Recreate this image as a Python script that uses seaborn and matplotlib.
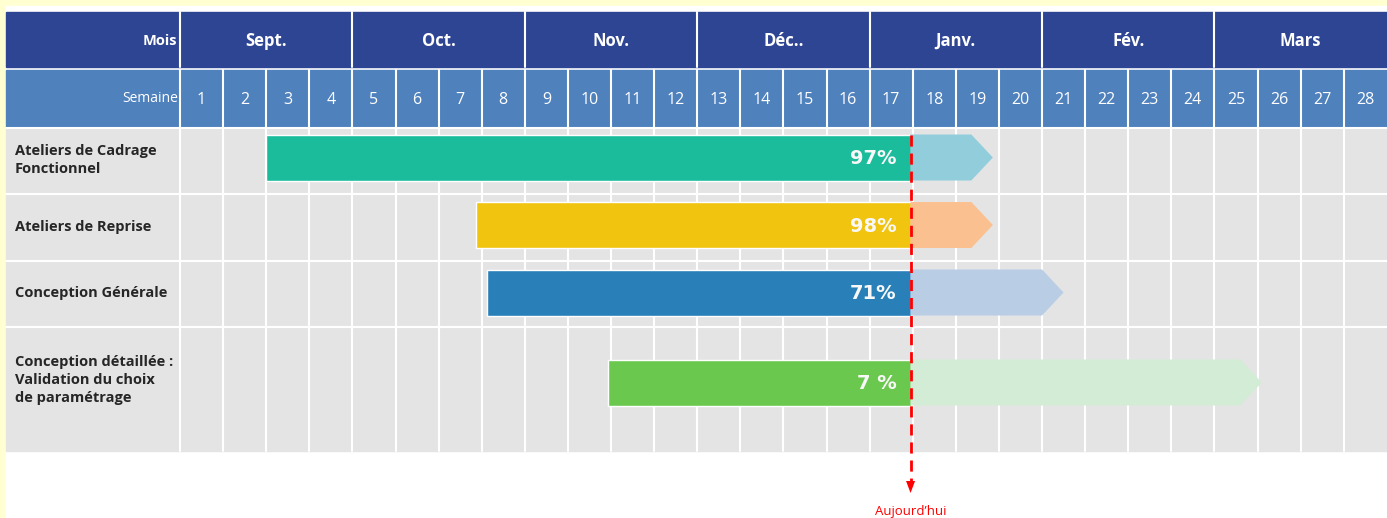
import numpy as np
import matplotlib.pyplot as plt
import seaborn as sns
from matplotlib.patches import Rectangle, Polygon

# ---- data ----
months = ["Sept.", "Oct.", "Nov.", "Déc..", "Janv.", "Fév.", "Mars"]
weeks_per_month = [4, 4, 4, 4, 4, 4, 4]
weeks = list(range(1, 29))

tasks = ["Ateliers de Cadrage\nFonctionnel",
         "Ateliers de Reprise",
         "Conception Générale",
         "Conception détaillée :\nValidation du choix\nde paramétrage"]
starts = [2.0, 6.87, 7.12, 9.93]      # week position where the task starts
ends = [18.86, 18.86, 20.5, 25.1]     # week position of the arrow tip
progress = ["97%", "98%", "71%", "7 %"]
today = 16.95

done_colors = ["#1ABC9C", "#F1C40F", "#2980B9", "#6AC84F"]
todo_colors = ["#92CDDC", "#FAC090", "#B9CDE5", "#D3ECD6"]

# ---- layout (pixels) ----
W = 43.1            # px per week
X0 = 180            # px where week 1 starts
row_edges = [128, 194, 261, 327, 451]
bar_centers = [157.5, 225, 292.5, 382.5]
label_centers = [160, 227, 293, 380]
bar_h = 46
tip = 0.5           # arrow head length, in weeks

sns.set_theme(style="white")
plt.rcParams['font.family'] = ['Open Sans', 'DejaVu Sans']

fig = plt.figure(figsize=(13.87, 5.18), dpi=100, facecolor="#FFFFD2")
ax = fig.add_axes([0, 0, 1, 1])
ax.set_xlim(-X0 / W, (1387 - X0) / W)
ax.set_ylim(518, 0)
ax.axis("off")

def px(x):
    return (x - X0) / W

left = px(6)
right = len(weeks)

# white page
ax.add_patch(Rectangle((left, 6), right - left, 520, color="white", zorder=0))

# month header
dark = "#2E4593"
ax.add_patch(Rectangle((left, 12), right - left, 55, color=dark, zorder=1))
ax.text(px(177), 41, "Mois", color="white", fontsize=10.5, fontweight="bold",
        ha="right", va="center", zorder=3)
pos = 0
for m, n in zip(months, weeks_per_month):
    ax.plot([pos, pos], [12, 67], color="white", lw=1.5, zorder=2)
    ax.text(pos + n / 2, 41, m, color="white", fontsize=12, fontweight="bold",
            ha="center", va="center", zorder=3)
    pos += n

# week header
ax.add_patch(Rectangle((left, 70), right - left, 57, color="#4F81BD", zorder=1))
ax.text(px(178), 99, "Semaine", color="white", fontsize=10,
        ha="right", va="center", zorder=3)
for i, w in enumerate(weeks):
    ax.plot([i, i], [70, 127], color="white", lw=1.5, zorder=2)
    ax.text(i + 0.5, 100, str(w), color="white", fontsize=11.5,
            ha="center", va="center", zorder=3)

# body grid
ax.add_patch(Rectangle((left, row_edges[0]), right - left,
                       row_edges[-1] - row_edges[0], color="#E4E4E4", zorder=1))
for i in range(len(weeks)):
    ax.plot([i, i], [row_edges[0], row_edges[-1]], color="white", lw=1.5, zorder=2)
for y in row_edges[:-1]:
    ax.plot([left, right], [y, y], color="white", lw=1.5, zorder=2)

# tasks
for k, t in enumerate(tasks):
    ax.text(px(15), label_centers[k], t, color="#262626", fontsize=10.5,
            fontweight="bold", ha="left", va="center", linespacing=1.4, zorder=3)
    yc = bar_centers[k]
    ax.barh(yc, today - starts[k], left=starts[k], height=bar_h,
            color=done_colors[k], zorder=4)
    shaft = ends[k] - tip
    ax.add_patch(Polygon([(today, yc - bar_h / 2), (shaft, yc - bar_h / 2),
                          (ends[k], yc), (shaft, yc + bar_h / 2),
                          (today, yc + bar_h / 2)],
                         closed=True, color=todo_colors[k], lw=0, zorder=4))
    ax.text(today - 0.32, yc + 1, progress[k], color="#F8F8F8", fontsize=14,
            fontweight="bold", family="DejaVu Sans", ha="right", va="center",
            zorder=5)

# today marker
red = "#FF0000"
ax.plot([today, today], [135, 482], color=red, lw=2, ls=(0, (4, 2.5)), zorder=6)
ax.add_patch(Polygon([(today - 4.5 / W, 481), (today + 4.5 / W, 481), (today, 493)],
                     closed=True, color=red, lw=0, zorder=6))
ax.text(today, 511, "Aujourd\u2019hui", color=red, fontsize=9.5,
        ha="center", va="center", zorder=6)

fig.savefig("out.png", dpi=100, facecolor=fig.get_facecolor())
